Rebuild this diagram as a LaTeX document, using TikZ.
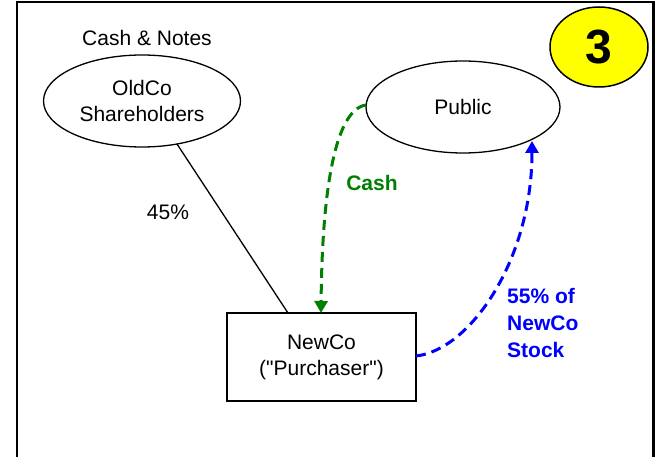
\documentclass[tikz,border=0pt]{standalone}
\usepackage{fontspec}
\setmainfont{Liberation Sans}[Ligatures=TeXOff]
\usetikzlibrary{shapes.geometric,arrows.meta}
\definecolor{flowgreen}{RGB}{0,128,0}
\definecolor{flowblue}{RGB}{0,0,255}
\definecolor{stepyellow}{RGB}{255,255,0}
\tikzset{
  txt/.style={font=\fontsize{21}{26}\selectfont, align=center, inner sep=0pt},
  party/.style={ellipse, draw, line width=1.3pt, inner sep=0pt, txt},
  entity/.style={rectangle, draw, line width=1.5pt, inner sep=0pt, txt},
  flow/.style={line width=3pt, dash pattern=on 10pt off 6pt,
    -{Triangle[length=12pt,width=13pt]}},
}
\begin{document}
\begin{tikzpicture}[x=1pt,y=-1pt]
\useasboundingbox (0,0) rectangle (656,457);
% panel frame
\draw[line width=2.5pt] (17,457) -- (17,2) -- (653.5,2) -- (653.5,457);

% step badge
\node[ellipse, draw, line width=1.5pt, fill=stepyellow, minimum width=98pt,
  minimum height=80pt, inner sep=0pt,
  font=\fontsize{48}{48}\selectfont\bfseries] (badge) at (599,47) {3};

% parties
\node[txt] (cn) at (147,38) {Cash \& Notes};
\node[party, minimum width=197pt, minimum height=92pt] (old) at (142,101)
  {OldCo\\Shareholders};
\node[party, minimum width=194pt, minimum height=92pt] (pub) at (463,107)
  {Public};
\node[entity, minimum width=189pt, minimum height=88pt] (new) at (321.5,357)
  {NewCo\\("Purchaser")};

% ownership line
\coordinate (oldfoot) at (177,144);
\coordinate (newtop) at (288,313);
\draw[line width=1.3pt] (oldfoot) -- (newtop);
\node[txt] (pct) at (168,212) {45\%};

% cash flow
\coordinate (pubw) at (366,105);
\coordinate (newcash) at (321,313);
\draw[flow, flowgreen] (pubw) .. controls (333,110) and (322,200) .. (newcash);
\node[txt, text=flowgreen, font=\fontsize{21}{26}\selectfont\bfseries]
  (cashlbl) at (372,183) {Cash};

% stock flow
\coordinate (newe) at (416,356);
\coordinate (pubs) at (532,141);
\draw[flow, flowblue] (newe) .. controls (470,350) and (532,260) .. (pubs);
\node[txt, text=flowblue, align=left, anchor=west,
  font=\fontsize{21}{27}\selectfont\bfseries]
  (stocklbl) at (507,323) {55\% of\\NewCo\\Stock};
\end{tikzpicture}
\end{document}
